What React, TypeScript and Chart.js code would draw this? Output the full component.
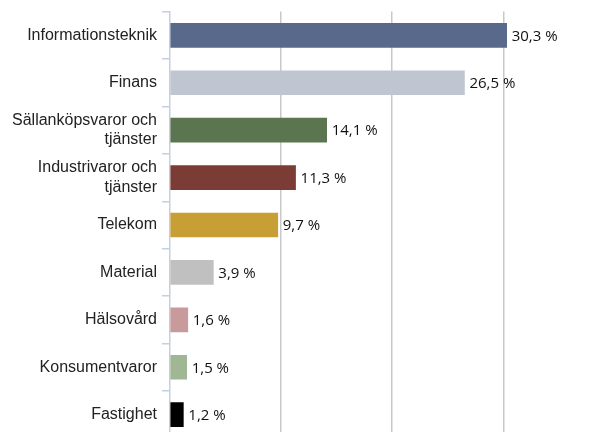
import React, { useEffect, useRef } from "react";
import { Chart, registerables } from "chart.js";

Chart.register(...registerables);

const categories: (string | string[])[] = [
  "Informationsteknik",
  "Finans",
  ["Sällanköpsvaror och", "tjänster"],
  ["Industrivaror och", "tjänster"],
  "Telekom",
  "Material",
  "Hälsovård",
  "Konsumentvaror",
  "Fastighet",
];
const values: number[] = [30.3, 26.5, 14.1, 11.3, 9.7, 3.9, 1.6, 1.5, 1.2];
const valueLabels: string[] = ["30,3 %", "26,5 %", "14,1 %", "11,3 %", "9,7 %", "3,9 %", "1,6 %", "1,5 %", "1,2 %"];
const barColors: string[] = [
  "#58698b",
  "#bfc5d1",
  "#5c7551",
  "#7b3c35",
  "#c79f34",
  "#c0c0c0",
  "#c89a9b",
  "#9fb795",
  "#000000",
];
const gridTicks: number[] = [10, 20, 30];

const valueLabelPlugin = {
  id: "valueLabels",
  afterDatasetsDraw(chart: any) {
    const ctx = chart.ctx;
    const meta = chart.getDatasetMeta(0);
    ctx.save();
    ctx.font = "15px 'Open Sans'";
    ctx.fillStyle = "#111111";
    ctx.textAlign = "left";
    ctx.textBaseline = "middle";
    meta.data.forEach((bar: any, i: number) => {
      ctx.fillText(valueLabels[i], bar.x + 5, bar.y + 1);
    });
    ctx.restore();
  },
};

export default function App() {
  const ref = useRef<HTMLCanvasElement>(null);
  useEffect(() => {
    if (!ref.current) return;
    const chart = new Chart(ref.current, {
      type: "bar",
      data: {
        labels: categories,
        datasets: [
          {
            data: values,
            backgroundColor: barColors,
            barThickness: 24,
            borderWidth: 0,
          },
        ],
      },
      plugins: [valueLabelPlugin],
      options: {
        indexAxis: "y",
        animation: false,
        responsive: false,
        maintainAspectRatio: false,
        layout: { padding: { top: 8, bottom: 3, left: 0, right: 0 } },
        plugins: {
          legend: { display: false },
          tooltip: { enabled: false },
          title: { display: false },
        },
        scales: {
          x: {
            min: 0,
            max: 39.6,
            ticks: { display: false, stepSize: 10 },
            grid: {
              drawTicks: false,
              lineWidth: 1.5,
              color: (c: any) =>
                c.tick && gridTicks.includes(c.tick.value) ? "#c8c8c8" : "rgba(0,0,0,0)",
            },
            border: { display: false },
            afterFit: (s: any) => {
              s.height = 0;
            },
          },
          y: {
            ticks: {
              color: "#222222",
              font: { family: "'Liberation Sans', Arial, sans-serif", size: 16, lineHeight: 1.2 },
              padding: 5,
            },
            grid: {
              offset: true,
              drawOnChartArea: false,
              drawTicks: true,
              tickLength: 8,
              color: "#c4cfe0",
              lineWidth: 1.5,
            },
            border: { display: true, color: "#c4cfe0", width: 1.5 },
            afterFit: (s: any) => {
              s.width = 170;
            },
          },
        },
      },
    });
    return () => chart.destroy();
  }, []);
  return (
    <div
      style={{
        position: "fixed",
        left: 0,
        top: 0,
        width: 610,
        height: 432,
        overflow: "hidden",
        background: "#fff",
      }}
    >
      <canvas
        ref={ref}
        width={610}
        height={456}
        style={{ display: "block", position: "relative", top: -3 }}
      />
    </div>
  );
}
